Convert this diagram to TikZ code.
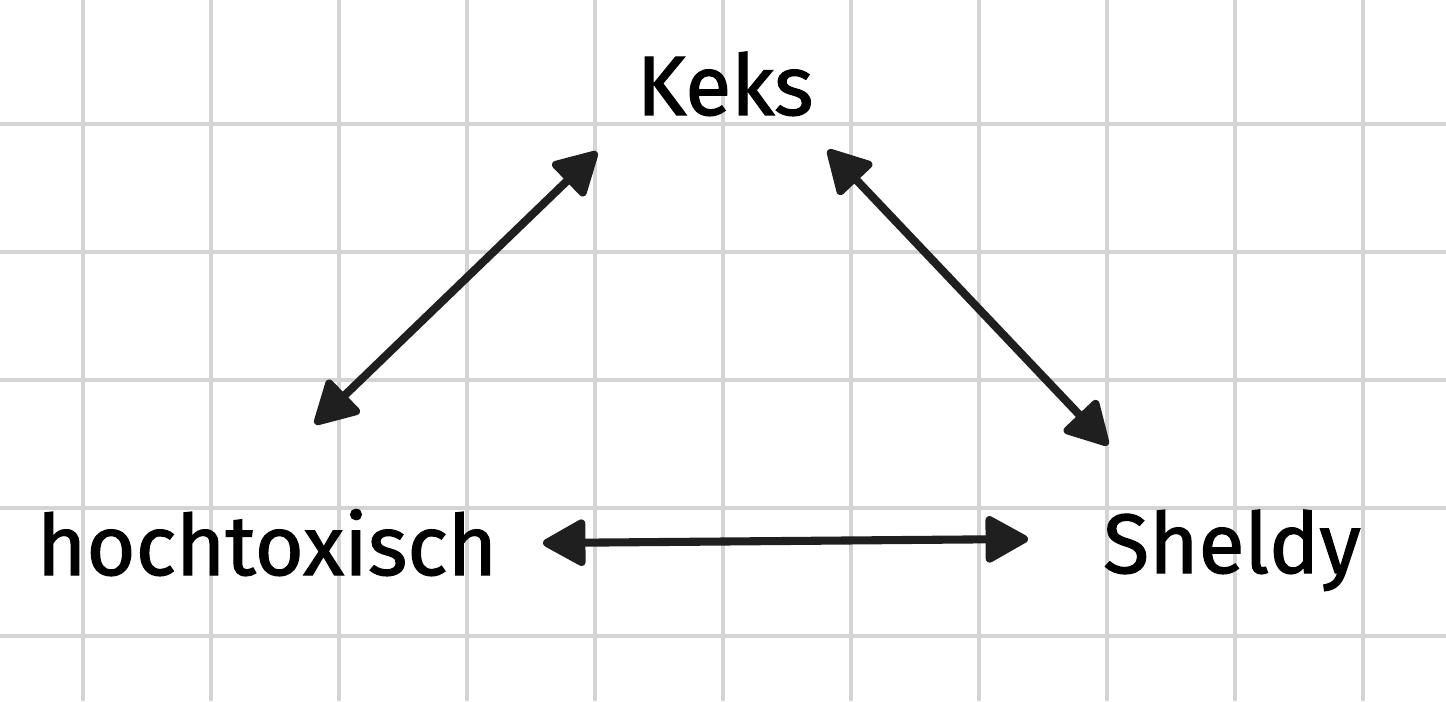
\documentclass[tikz,border=0pt]{standalone}
\usepackage{fontspec}
\newfontfamily\wordfont[FakeBold=1.3]{Fira Sans}
\usetikzlibrary{arrows.meta}

\begin{document}
\begin{tikzpicture}[x=1cm, y=1cm,
    gridline/.style={draw=black!17, line width=1.15pt},
    biarrow/.style={draw=black!88, line width=2.3pt,
        {Triangle[length=0.47cm, width=0.5cm, round]}-{Triangle[length=0.47cm, width=0.5cm, round]}},
    word/.style={anchor=base, font=\wordfont\fontsize{24}{29}\selectfont}]

\useasboundingbox (0,0) rectangle (14.46,7.01);

% grid
\foreach \x in {0,...,10}
  \draw[gridline] (0.83+1.28*\x,0) -- (0.83+1.28*\x,7.01);
\foreach \y in {0,...,4}
  \draw[gridline] (0,0.65+1.28*\y) -- (14.46,0.65+1.28*\y);

\node[word] (keks) at (7.25,5.86) {Keks};
\node[word] (hoch) at (2.67,1.26) {hochtoxisch};
\node[word] (sheldy) at (12.32,1.28) {Sheldy};

\coordinate (kl) at (5.97,5.49);
\coordinate (kr) at (8.28,5.51);
\coordinate (ht) at (3.15,2.77);
\coordinate (hr) at (5.43,1.58);
\coordinate (st) at (11.08,2.56);
\coordinate (sl) at (10.28,1.62);

\draw[biarrow] (kl) to (ht);
\draw[biarrow] (kr) to (st);
\draw[biarrow] (hr) to (sl);

\end{tikzpicture}
\end{document}
